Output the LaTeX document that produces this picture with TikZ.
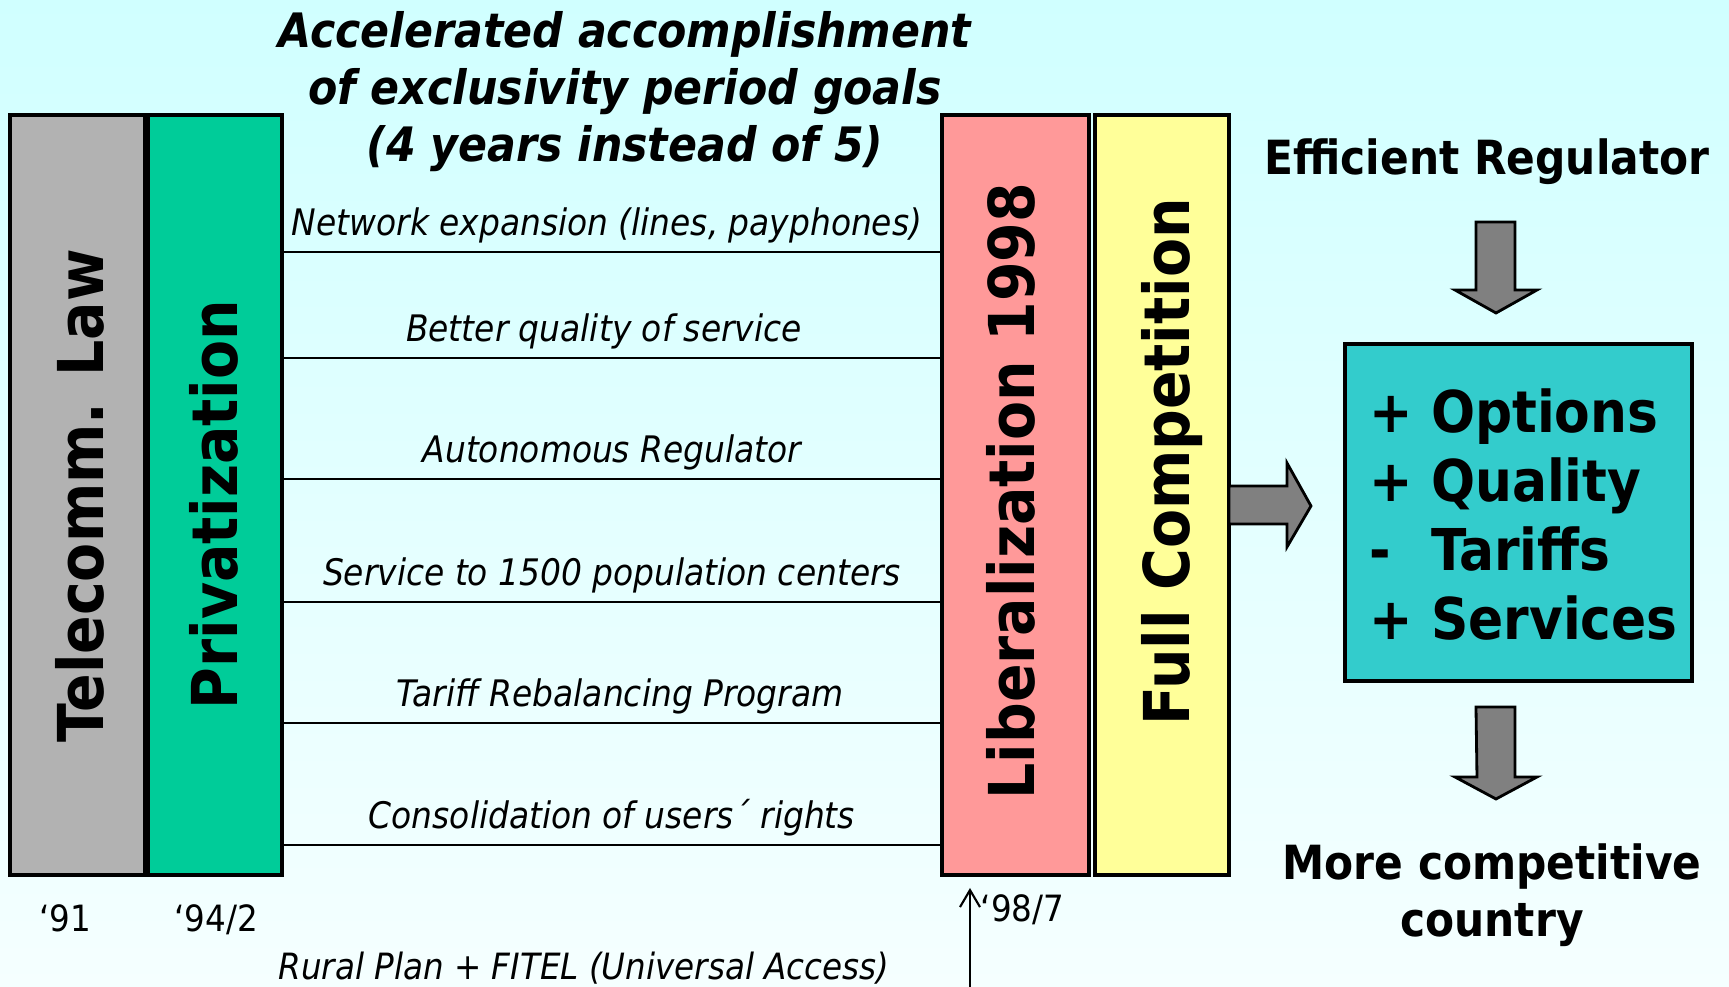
\documentclass[tikz,border=0pt]{standalone}
\usepackage{fontspec}
\setmainfont{DejaVu Sans Condensed}
\usetikzlibrary{arrows.meta,positioning,calc}
\definecolor{bgTop}{HTML}{D0FFFF}
\definecolor{bgBot}{HTML}{F5FFFF}
\definecolor{lawColor}{HTML}{B2B2B2}
\definecolor{privColor}{HTML}{00CC99}
\definecolor{libColor}{HTML}{FF9999}
\definecolor{compColor}{HTML}{FFFF99}
\definecolor{resColor}{HTML}{33CCCC}
\definecolor{fatColor}{HTML}{808080}
\newcommand{\fsize}[2]{\fontsize{#1pt}{#2pt}\selectfont}
\tikzset{
	bar/.style={draw, line width=0.9pt, outer sep=0, inner sep=0, minimum height=76mm},
	barText/.style={rotate=90, anchor=base, inner sep=0, font=\fsize{18}{21.6}\bfseries},
	goal/.style={line width=0.7pt},
	goalText/.style={anchor=base, inner sep=0, font=\fsize{10.4}{12.5}\itshape},
	yearText/.style={anchor=base, inner sep=0, font=\fsize{10.3}{12.4}},
	bigText/.style={anchor=base, inner sep=0, font=\fsize{13.4}{16.2}\bfseries},
	titleText/.style={anchor=base, inner sep=0, font=\fsize{13.5}{16.2}\bfseries\itshape},
	resText/.style={anchor=base west, inner sep=0, font=\fsize{16.4}{19.6}\bfseries},
	fat/.style={draw, line width=0.8pt, fill=fatColor, line join=miter}
}

\begin{document}
\begin{tikzpicture}[x=0.1mm, y=-0.1mm]
	\fill[top color=bgTop, bottom color=bgBot] (0,0) rectangle (1729,987);
	\useasboundingbox (0,0) rectangle (1729,987);
	
	\node[bar, fill=lawColor, minimum width=13.5mm] (law) at (77.5, 495) {};
	\node[bar, fill=privColor, minimum width=13.4mm] (priv) at (215, 495) {};
	\node[bar, fill=libColor, minimum width=14.7mm] (lib) at (1015.5, 495) {};
	\node[bar, fill=compColor, minimum width=13.4mm] (comp) at (1162, 495) {};
	\node[barText] (lawT) at (103, 496) {Telecomm. Law};
	\node[barText] (privT) at (237, 504.5) {Privatization};
	\node[barText] (libT) at (1034, 491) {Liberalization 1998};
	\node[barText] (compT) at (1189, 462) {Full Competition};
	
	\node[titleText] (goals) at (625, 48) {\begin{tabular}[t]{@{}c@{}}
			Accelerated accomplishment\\ of exclusivity period goals\\ (4 years instead of 5)
	\end{tabular}};
	
	\foreach \y/\dx/\goal in {252/-5/{Network expansion (lines, payphones)}, 358/-8/{Better quality of service},
		479/0/{Autonomous Regulator}, 602/0/{Service to 1500 population centers},
		723/8/{Tariff Rebalancing Program}, 845/0/{Consolidation of users´ rights}}
	\draw[goal] (priv.east |- 0,\y) -- (lib.west |- 0,\y)
		node[goalText, midway, xshift=\dx*0.1mm, yshift=1.6mm] {\goal};
	
	\node[yearText] (y91) at (65, 932) {‘91};
	\node[yearText] (y94) at (216, 932) {‘94/2};
	\node[yearText, anchor=base west] (y98) at (980, 922) {‘98/7};
	\node[yearText] (rural) at (584, 980) {\itshape Rural Plan + FITEL (Universal Access)};
	\coordinate (ruralEnd) at (970, 987);
	\draw[line width=0.6pt, -{Straight Barb[length=1.7mm, width=2mm]}] (ruralEnd) -- ($(ruralEnd |- lib.south)+(0,13)$);
	
	\node[draw, line width=0.9pt, fill=resColor, outer sep=0, minimum width=34.7mm, minimum height=33.7mm] (res) at (1518.5, 512.5) {};
	\node[resText] (resList) at (1369, 433) {\begin{tabular}[t]{@{}l@{\ }l@{}}
			+ & Options\\ + & Quality\\ - & Tariffs\\ + & Services
	\end{tabular}};
	\node[bigText] (effReg) at (1487, 175) {Efficient Regulator};
	\node[bigText] (country) at (1492, 880) {\begin{tabular}[t]{@{}c@{}} More competitive\\ country \end{tabular}};
	
	% block arrows
	\draw[fat] (comp.east |- 0,486) -- ++(58,0) -- ++(0,-23) -- ++(24,43) -- ++(-24,41) -- ++(0,-23) -- ++(-58,0) -- cycle;
	\draw[fat] ($(1496,0 |- res.north)+(0,-31)$) -- ++(-41,-23) -- ++(21,0) -- ++(0,-68) -- ++(39,0) -- ++(0,68) -- ++(22,0) -- cycle;
	\draw[fat] ($(1496,0 |- res.south)+(-20,26)$) -- ++(39,0) -- ++(0,70) -- ++(22,0) -- ++(-41,22) -- ++(-41,-22) -- ++(22,0) -- cycle;
\end{tikzpicture}
\end{document}
